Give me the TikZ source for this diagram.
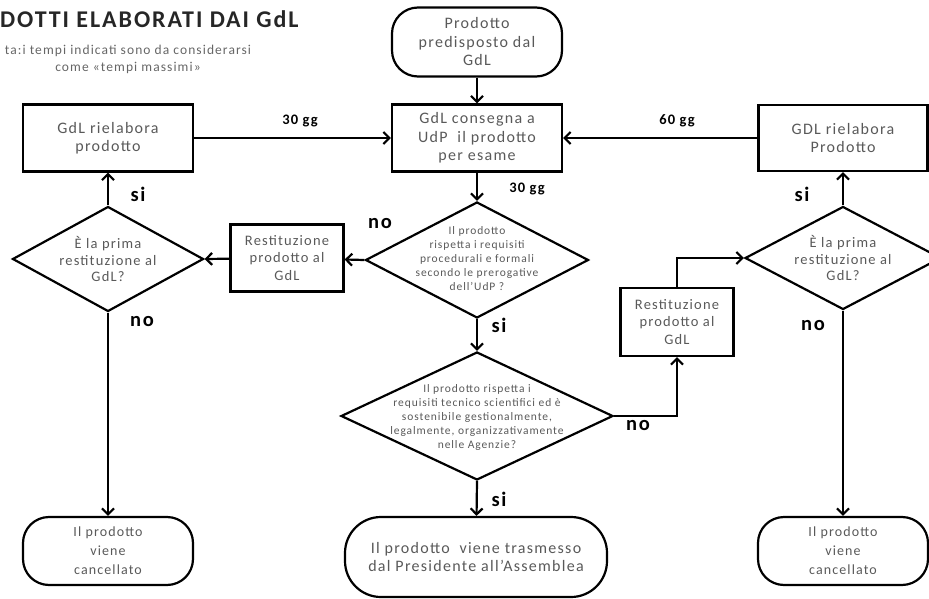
\documentclass[tikz,border=0pt]{standalone}
\usepackage{fontspec}
\setmainfont[LetterSpace=8]{Carlito}
\usetikzlibrary{shapes.geometric, arrows.meta}
\definecolor{txtgray}{gray}{0.35}

\begin{document}
\begin{tikzpicture}[x=1pt, y=-1pt,
  box/.style={draw, line width=2.2pt, align=center, text=txtgray, inner sep=2pt,
    minimum width=170pt, minimum height=67pt, font=\fontsize{16}{18.5}\selectfont},
  smallbox/.style={box, minimum width=113pt, minimum height=67pt, font=\fontsize{14.5}{17.5}\selectfont},
  terminal/.style={box, rounded corners=26pt},
  decision/.style={draw, diamond, line width=2.2pt, inner sep=0pt},
  dtext/.style={align=center, text=txtgray, font=\fontsize{11.5}{14}\selectfont},
  qtext/.style={align=center, text=txtgray, font=\fontsize{14.5}{16.5}\selectfont},
  lbl/.style={font=\fontsize{20.5}{22}\bfseries},
  days/.style={font=\fontsize{14.5}{16}\bfseries},
  arr/.style={line width=2.2pt, -{Straight Barb[length=6pt,width=12pt]}}]
\useasboundingbox (0,0) rectangle (929,599);

% Title and note
\node[anchor=west, inner sep=0pt, font=\fontsize{24}{27}\bfseries, text=black!85] (title) at (0,19) {DOTTI ELABORATI DAI GdL};
\node[align=center, inner sep=0pt, text=black!60, font=\fontsize{13.5}{17}\selectfont] (note) at (128,59)
  {ta:i tempi indicati sono da considerarsi\\come «tempi massimi»};

% Main column
\node[terminal, minimum height=69pt] (start) at (477,42) {Prodotto\\predisposto dal\\GdL};
\node[box] (consegna) at (477,138) {GdL consegna a\\UdP\ \ il prodotto\\per esame};
\node[decision, minimum width=223pt, minimum height=116pt] (q1) at (477,260) {};
\node[dtext] (q1text) at (477,259) {Il prodotto\\rispetta i requisiti\\procedurali e formali\\secondo le prerogative\\dell'UdP ?};
\node[decision, minimum width=272pt, minimum height=128pt] (q2) at (477,416) {};
\node[dtext] (q2text) at (477,417) {Il prodotto rispetta i\\requisiti tecnico scientifici ed è\\sostenibile gestionalmente,\\legalmente, organizzativamente\\nelle Agenzie?};
\node[terminal, minimum width=262pt, minimum height=80pt, rounded corners=36pt] (trasmesso) at (476,557)
  {Il prodotto\ \ viene trasmesso\\dal Presidente all'Assemblea};

% Left branch
\node[box] (rielL) at (108,138) {GdL rielabora\\prodotto};
\node[smallbox] (restL) at (287,258) {Restituzione\\prodotto al\\GdL};
\node[decision, minimum width=191pt, minimum height=105pt] (primaL) at (108,259) {};
\node[qtext] (primaLtext) at (108,259) {È la prima\\restituzione al\\GdL?};
\node[terminal, minimum height=68pt, font=\fontsize{14}{19}\selectfont] (cancL) at (108,551) {Il prodotto\\viene\\cancellato};

% Right branch
\node[box, minimum width=169pt, minimum height=66pt] (rielR) at (843,138) {GDL rielabora\\Prodotto};
\node[smallbox, minimum height=68pt] (restR) at (677,322) {Restituzione\\prodotto al\\GdL};
\node[decision, minimum width=196pt, minimum height=103pt] (primaR) at (843,258) {};
\node[qtext] (primaRtext) at (843,258) {È la prima\\restituzione al\\GdL?};
\node[terminal, minimum height=68pt, font=\fontsize{14}{19}\selectfont] (cancR) at (843,551) {Il prodotto\\viene\\cancellato};

% Connectors
\draw[arr] (start) -- (consegna);
\draw[arr] (consegna) -- (q1);
\draw[arr] (rielL) -- (consegna);
\draw[arr] (rielR) -- (consegna);
\draw[arr] (q1.west) -- (restL);
\draw[arr] (restL) -- (primaL.east);
\draw[arr] (primaL.north) -- (rielL);
\draw[arr] (primaL.south) -- (cancL);
\draw[arr] (q1.south) -- (q2.north);
\draw[arr] (q2.south) -- (trasmesso);
\draw[arr] (q2.east) -| (restR.south);
\draw[arr] (restR.north) |- (primaR.west);
\draw[arr] (primaR.north) -- (rielR);
\draw[arr] (primaR.south) -- (cancR);

% Labels
\node[days] (d30a) at (300,121) {30 gg};
\node[days] (d60) at (677,121) {60 gg};
\node[days] (d30b) at (527,189) {30 gg};
\node[lbl] (noq1) at (380,224) {no};
\node[lbl] (siq1) at (499,325) {si};
\node[lbl] (noq2) at (638,426) {no};
\node[lbl] (siq2) at (499,499) {si};
\node[lbl] (siL) at (138,194) {si};
\node[lbl] (noL) at (142,322) {no};
\node[lbl] (siR) at (802,194) {si};
\node[lbl] (noR) at (813,326) {no};
\end{tikzpicture}
\end{document}
